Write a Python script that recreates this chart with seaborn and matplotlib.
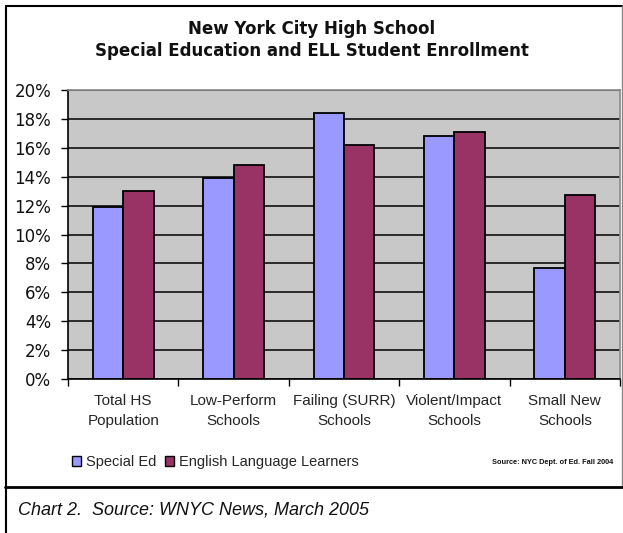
import matplotlib
matplotlib.use("Agg")
import matplotlib.pyplot as plt
from matplotlib.lines import Line2D
from matplotlib.patches import Patch
import seaborn as sns
import pandas as pd

categories = ["Total HS\nPopulation", "Low-Perform\nSchools", "Failing (SURR)\nSchools",
              "Violent/Impact\nSchools", "Small New\nSchools"]
special_ed = [11.9, 13.9, 18.4, 16.8, 7.7]
ell = [13.0, 14.8, 16.2, 17.1, 12.7]
series_names = ["Special Ed", "English Language Learners"]
y_ticks = [0, 2, 4, 6, 8, 10, 12, 14, 16, 18, 20]
y_tick_labels = [f"{v}%" for v in y_ticks]
title = "New York City High School\nSpecial Education and ELL Student Enrollment"
source_note = "Source: NYC Dept. of Ed. Fall 2004"
caption = "Chart 2.  Source: WNYC News, March 2005"

colors = ["#9999FF", "#993366"]

df = pd.DataFrame({
    "Category": categories * 2,
    "Series": [series_names[0]] * len(categories) + [series_names[1]] * len(categories),
    "Value": special_ed + ell,
})

sns.set_theme(style="white")
plt.rcParams["font.family"] = ["DejaVu Sans"]

W, H = 623, 533
fig = plt.figure(figsize=(W / 100, H / 100), dpi=100)
fig.patch.set_facecolor("white")

ax = fig.add_axes([68 / W, 1 - 379 / H, 552 / W, 289 / H])
sns.barplot(data=df, x="Category", y="Value", hue="Series", palette=colors, saturation=1,
            width=0.55, edgecolor="black", linewidth=1.3, legend=False, ax=ax,
            order=categories, hue_order=series_names)

ax.set_facecolor("#C8C8C8")
ax.set_ylim(0, 20)
ax.set_xlim(-0.5, len(categories) - 0.5)
ax.set_yticks(y_ticks)
ax.set_yticklabels(y_tick_labels, fontsize=12, family="DejaVu Sans", color="#111111")
ax.yaxis.grid(True, color="black", linewidth=1.1)
ax.xaxis.grid(False)
ax.set_axisbelow(True)
ax.set_xlabel("")
ax.set_ylabel("")

ax.set_xticks(range(len(categories)))
ax.set_xticklabels(categories, fontsize=11, family="Liberation Sans", linespacing=1.5)
ax.set_xticks([i + 0.5 for i in range(-1, len(categories))], minor=True)
ax.tick_params(axis="x", which="major", length=0, pad=11)
ax.tick_params(axis="x", which="minor", length=5, width=1, color="black", direction="out", bottom=True)
ax.tick_params(axis="y", which="major", length=5, width=1, color="black", direction="out", left=True, pad=7)

for side in ["top", "right"]:
    ax.spines[side].set_color("#8a8a8a")
    ax.spines[side].set_linewidth(1.2)
for side in ["left", "bottom"]:
    ax.spines[side].set_color("black")
    ax.spines[side].set_linewidth(1.2)

fig.text(312 / W, 1 - 40 / H, title, ha="center", va="center", fontsize=12,
         fontweight="bold", family="DejaVu Sans", linespacing=1.3, color="#111111")

handles = [Patch(facecolor=c, edgecolor="black", linewidth=1.0) for c in colors]
fig.legend(handles, series_names, loc="center left", bbox_to_anchor=(72 / W, 1 - 462 / H),
           ncol=2, frameon=False, handlelength=0.65, handleheight=0.65, handletextpad=0.3,
           columnspacing=0.6, borderpad=0, borderaxespad=0,
           prop={"family": "Liberation Sans", "size": 10.5})

fig.text(613 / W, 1 - 463 / H, source_note, ha="right", va="center", fontsize=5.3,
         fontweight="bold", family=["Liberation Sans Narrow", "Liberation Sans"], color="#111111")

fig.text(18 / W, 1 - 510 / H, caption, ha="left", va="center", fontsize=13,
         style="italic", family="Liberation Sans", color="#111111")

# chart frame
def fl(x0, y0, x1, y1, lw, color="black"):
    fig.add_artist(Line2D([x0 / W, x1 / W], [1 - y0 / H, 1 - y1 / H], lw=lw, color=color,
                          transform=fig.transFigure))

fl(6, 6, 622, 6, 1.5)
fl(6, 6, 6, 533, 1.5)
fl(622, 6, 622, 487, 1.0, "#888888")
fl(5, 487, 623, 487, 2.0)

fig.savefig("out.png", dpi=100, facecolor="white")
